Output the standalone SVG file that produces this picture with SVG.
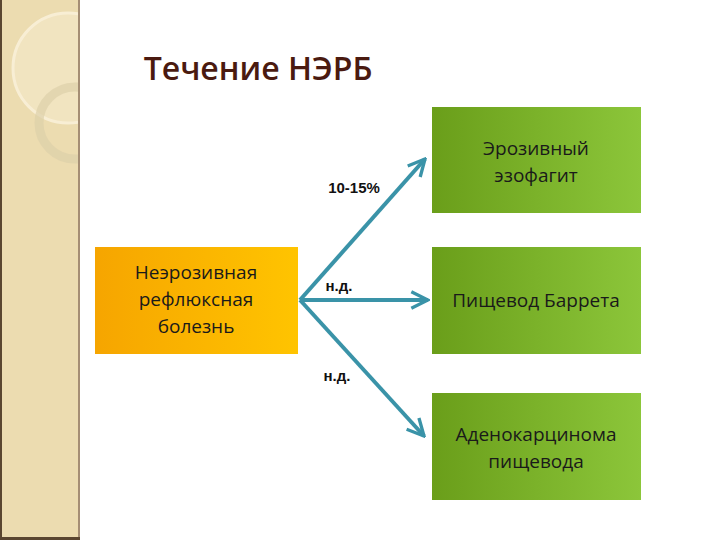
<svg xmlns="http://www.w3.org/2000/svg" width="720" height="540" viewBox="0 0 720 540">
<defs>
<linearGradient id="gy" x1="0" y1="0" x2="1" y2="0"><stop offset="0" stop-color="#f6a500"/><stop offset="1" stop-color="#ffc400"/></linearGradient>
<linearGradient id="gg" x1="0" y1="0" x2="1" y2="0"><stop offset="0" stop-color="#6a9e1a"/><stop offset="1" stop-color="#8cc63a"/></linearGradient>
<clipPath id="cp"><rect x="0" y="0" width="78" height="540"/></clipPath>
<marker id="ah" viewBox="0 0 12 12" refX="11" refY="6" markerWidth="5" markerHeight="5" orient="auto" markerUnits="strokeWidth"><path d="M1,1 L11,6 L1,11" fill="none" stroke="#3a93a8" stroke-width="2"/></marker>
<style>
text{font-family:"Open Sans","DejaVu Sans",sans-serif;text-anchor:middle}
.n{font-size:19px;fill:#1a1a1a}
.l{font-family:"Liberation Sans",Arial,sans-serif;font-size:15px;font-weight:bold;fill:#111}
.c{stroke:#3a93a8;stroke-width:4;fill:none;marker-end:url(#ah)}
</style>
</defs>
<rect width="720" height="540" fill="#fff"/>
<g id="decor">
<rect x="0" y="0" width="79" height="540" fill="#ecdcb0"/>
<g clip-path="url(#cp)">
<circle cx="68" cy="68" r="55" fill="#f3e6c4" stroke="#fbf3de" stroke-width="3" opacity="0.8"/>
<circle cx="75" cy="123" r="36" fill="none" stroke="#ddd0aa" stroke-width="9" opacity="0.7"/>
</g>
<rect x="0" y="0" width="2" height="540" fill="#5a4630"/>
<rect x="78" y="0" width="2" height="540" fill="#a58e74"/>
<rect x="0" y="537" width="80" height="3" fill="#5a4630"/>
</g>
<text x="258" y="80" style="font-size:32px;font-weight:600;fill:#4a1a10">Течение НЭРБ</text>
<g id="connectors">
<path class="c" d="M300,300 L425,159"/>
<path class="c" d="M300,300 L428,300"/>
<path class="c" d="M300,300 L424,436"/>
</g>
<text class="l" x="354" y="193">10-15%</text>
<text class="l" x="339" y="291">н.д.</text>
<text class="l" x="337" y="381">н.д.</text>
<g id="n1"><rect x="95" y="247" width="203" height="107" fill="url(#gy)"/>
<text class="n" x="196" y="279">Неэрозивная</text><text class="n" x="196" y="306">рефлюксная</text><text class="n" x="196" y="333">болезнь</text></g>
<g id="n2"><rect x="432" y="107" width="209" height="106" fill="url(#gg)"/>
<text class="n" x="536" y="155">Эрозивный</text><text class="n" x="536" y="182">эзофагит</text></g>
<g id="n3"><rect x="432" y="247" width="209" height="107" fill="url(#gg)"/>
<text class="n" x="536" y="307">Пищевод Баррета</text></g>
<g id="n4"><rect x="432" y="393" width="209" height="107" fill="url(#gg)"/>
<text class="n" x="536" y="441">Аденокарцинома</text><text class="n" x="536" y="468">пищевода</text></g>
</svg>
